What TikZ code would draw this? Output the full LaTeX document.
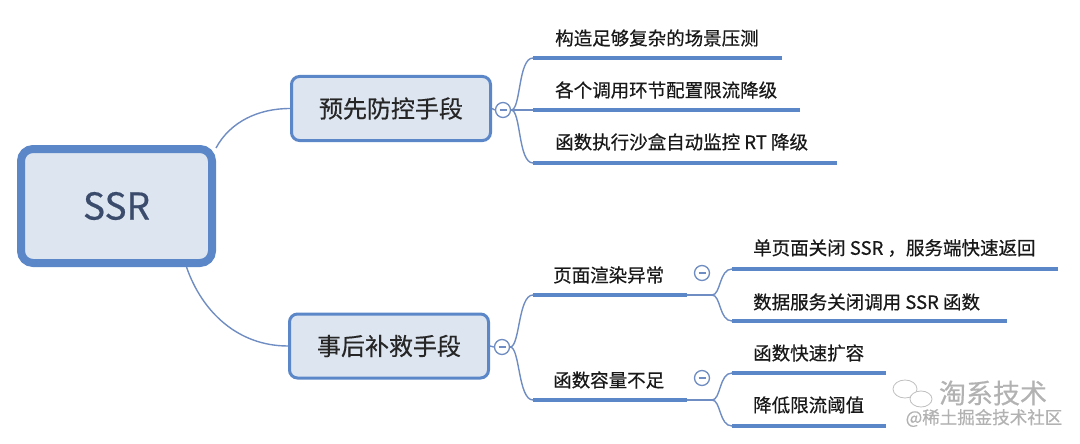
\documentclass[tikz,border=0pt]{standalone}
\usepackage{fontspec}
\newfontfamily\cjk[FakeBold=0.5]{Noto Sans CJK SC}
\usetikzlibrary{positioning}
\definecolor{mapblue}{HTML}{5B87C8}
\definecolor{boxfill}{HTML}{DDE5F1}
\definecolor{linkblue}{HTML}{6F8DC2}
\definecolor{ssrtext}{HTML}{3B4B6C}

\begin{document}
\begin{tikzpicture}[x=1pt,y=-1pt,
		root/.style={rounded corners=12pt,draw=mapblue,line width=8pt,fill=boxfill,minimum width=191pt,minimum height=114pt,inner sep=0pt,font=\cjk\fontsize{37}{40}\selectfont,text=ssrtext},
		topic/.style={rounded corners=8pt,draw=mapblue,line width=3pt,fill=boxfill,minimum width=199pt,minimum height=64pt,inner sep=0pt,font=\cjk\fontsize{24}{28}\selectfont,text=black!85},
		leaf/.style={anchor=west,inner sep=0pt,font=\cjk\fontsize{18.5}{22}\selectfont,text=black!90},
		under/.style={draw=mapblue,line width=4pt},
		link/.style={draw=linkblue,line width=1.4pt},
		fold/.style={circle,draw=linkblue,line width=1.3pt,fill=white,minimum size=15pt,inner sep=0pt,
			path picture={\draw[linkblue,line width=1.3pt] ([xshift=-3.5pt]path picture bounding box.center) -- ([xshift=3.5pt]path picture bounding box.center);}},
		wtext/.style={inner sep=0pt,text=black!30,font=\cjk}]
	\useasboundingbox (0,0) rectangle (1080,444);

	% main boxes
	\node[root] (ssr) at (116.5,206) {SSR};
	\node[topic] (pre) at (391,108.5) {预先防控手段};
	\node[topic] (post) at (389,346) {事后补救手段};
	\node[fold] (f1) at (503,110) {};
	\node[fold] (f2) at (502,347) {};
	\node[fold] (f3) at (702,273) {};
	\node[fold] (f4) at (702,378) {};

	\draw[link] ([yshift=-3pt]ssr.north east) .. controls (230,122) and (258,108.5) .. (pre.west);
	\draw[link] ([xshift=70pt]ssr.south) .. controls (202,312) and (238,346) .. (post.west);
	\draw[link] (pre.east) -- (f1.west);
	\draw[link] (post.east) -- (f2.west);

	% before: three leaves
	\coordinate (l1a) at (533,58);  \coordinate (l1b) at (782,58);
	\coordinate (l2a) at (533,110); \coordinate (l2b) at (800,110);
	\coordinate (l3a) at (533,163); \coordinate (l3b) at (837,163);
	\node[leaf] (l1) at (555,38) {构造足够复杂的场景压测};
	\node[leaf] (l2) at (555,90) {各个调用环节配置限流降级};
	\node[leaf] (l3) at (555,142) {函数执行沙盒自动监控 RT 降级};
	\draw[link] (f1.east) .. controls (521,110) and (518,58) .. (l1a);
	\draw[link] (f1.east) -- (l2a);
	\draw[link] (f1.east) .. controls (521,110) and (518,163) .. (l3a);
	\foreach \n in {l1,l2,l3}
		\draw[under] (\n a) -- (\n b);

	% after: two groups
	\coordinate (m1a) at (533,295); \coordinate (m1b) at (687,295); \coordinate (m1c) at (712,295);
	\coordinate (m2a) at (533,400); \coordinate (m2b) at (687,400); \coordinate (m2c) at (712,400);
	\node[leaf] (m1) at (553,275) {页面渲染异常};
	\node[leaf] (m2) at (553,380) {函数容量不足};
	\draw[link] (f2.east) .. controls (520,347) and (518,295) .. (m1a);
	\draw[link] (f2.east) .. controls (520,347) and (518,400) .. (m2a);
	\draw[under] (m1a) -- (m1b);
	\draw[under] (m2a) -- (m2b);
	\draw[link] (m1b) -- (m1c);
	\draw[link] (m2b) -- (m2c);

	\coordinate (n1a) at (732,269); \coordinate (n1b) at (1058,269);
	\coordinate (n2a) at (732,321); \coordinate (n2b) at (1007,321);
	\coordinate (n3a) at (732,373); \coordinate (n3b) at (886,373);
	\coordinate (n4a) at (732,426); \coordinate (n4b) at (886,426);
	\node[leaf] (n1) at (753,248) {单页面关闭 SSR ，服务端快速返回};
	\node[leaf] (n2) at (753,302) {数据服务关闭调用 SSR 函数};
	\node[leaf] (n3) at (753,353) {函数快速扩容};
	\node[leaf] (n4) at (753,405) {降低限流阈值};
	\draw[link] (m1c) .. controls (721,295) and (719,269) .. (n1a);
	\draw[link] (m1c) .. controls (721,295) and (719,321) .. (n2a);
	\draw[link] (m2c) .. controls (721,400) and (719,373) .. (n3a);
	\draw[link] (m2c) .. controls (721,400) and (719,426) .. (n4a);
	\foreach \n in {n1,n2,n3,n4}
		\draw[under] (\n a) -- (\n b);

	% watermark
	\draw[black!25,line width=0.8pt,fill=white] (905,389) ellipse (12 and 9);
	\draw[black!25,line width=0.8pt,fill=white] (921,399) ellipse (11 and 8);
	\node[wtext,font=\cjk\fontsize{27}{30}\selectfont] (wm1) at (993,393) {淘系技术};
	\node[wtext,font=\cjk\fontsize{17.5}{20}\selectfont] (wm2) at (984,418) {@稀土掘金技术社区};
\end{tikzpicture}
\end{document}
